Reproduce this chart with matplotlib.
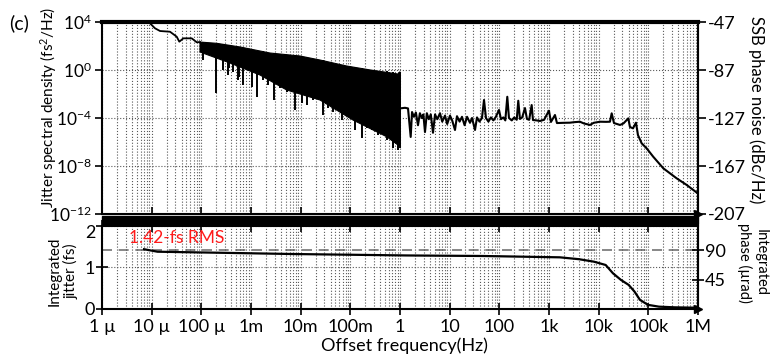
import numpy as np
import matplotlib.pyplot as plt
import matplotlib.transforms as mtransforms
from matplotlib.ticker import NullLocator, FixedLocator, LogLocator, NullFormatter
from matplotlib.patches import Rectangle

plt.rcParams['font.family'] = ['Lato', 'DejaVu Sans']
plt.rcParams['mathtext.fontset'] = 'custom'
plt.rcParams['mathtext.rm'] = 'Lato'
plt.rcParams['mathtext.it'] = 'Lato:italic'
plt.rcParams['axes.unicode_minus'] = False

# jitter spectral density, stored as log10(Hz) / log10(fs^2/Hz)
# smooth start below 100 uHz
head_logf = [-5.068, -4.933, -4.832, -4.631, -4.496, -4.444, -4.363, -4.194, -4.093, -4.027]
head_logS = [4.03, 3.475, 3.25, 3.19, 2.775, 2.36, 2.64, 2.64, 2.31, 2.33]

# 100 uHz .. 1 Hz: dense black band, upper and lower edge
band_up_logf = [-4.027, -3.691, -3.222, -2.618, -2.014, -1.611, -1.073, -0.593, -0.041, 0.0]
band_up_logS = [2.33, 2.225, 1.92, 1.417, 1.167, 0.833, 0.333, 0.0, -0.333, -0.14]
band_lo_logf = [-4.027, -3.423, -2.819, -2.281, -1.611, -0.947, -0.268, -0.041, 0.0]
band_lo_logS = [1.5, 0.583, -0.417, -1.667, -2.5, -4.167, -5.56, -6.25, -6.3]

# dips reaching below the band: position, bottom, top
dip_logf = [-3.967, -3.705, -3.564, -3.463, -3.443, -3.363, -3.262, -3.242, -3.161,
            -2.986, -2.879, -2.759, -2.658, -2.537, -2.416, -2.275, -2.114, -1.973,
            -1.873, -1.752, -1.551, -1.450, -1.349, -1.174, -1.067, -0.906, -0.771,
            -0.665, -0.564, -0.443, -0.268, -0.141, -0.041, -0.01]
dip_low = [0.833, -1.917, 0.0, -0.417, 0.167, -0.167, -0.833, -0.558, -1.25,
           -1.39, -2.225, -0.833, -1.25, -2.5, -1.5, -1.833, -3.333, -2.75,
           -2.917, -2.5, -3.75, -3.167, -3.5, -4.167, -3.75, -5.0, -5.67,
           -4.833, -5.0, -5.417, -5.83, -6.5, -6.67, -6.5]
dip_top = [2.3, 2.2, 2.15, 2.1, 2.1, 2.0, 1.95, 1.9, 1.85,
           1.7, 1.6, 1.55, 1.45, 1.4, 1.33, 1.27, 1.2, 1.13,
           1.05, 0.95, 0.8, 0.7, 0.6, 0.4, 0.33, 0.25, 0.15,
           0.05, 0.0, -0.1, -0.1, -0.2, -0.3, -0.14]

# 1 Hz .. 1 MHz
tail_logf = [0.02, 0.10, 0.161, 0.215, 0.242, 0.28, 0.32, 0.362, 0.40, 0.44,
             0.47, 0.503, 0.54, 0.58, 0.62, 0.664, 0.705, 0.75, 0.805, 0.85,
             0.906, 0.95, 1.006, 1.05, 1.107, 1.147, 1.20, 1.248, 1.30, 1.35,
             1.409, 1.45, 1.510, 1.55, 1.60, 1.65, 1.691, 1.731, 1.78, 1.83,
             1.88, 1.93, 1.993, 2.033, 2.08, 2.12, 2.160, 2.194, 2.25, 2.30,
             2.35, 2.381, 2.415, 2.46, 2.516, 2.556, 2.60, 2.651, 2.677, 2.75,
             2.818, 2.9, 2.999, 3.039, 3.120, 3.160, 3.3, 3.422, 3.5, 3.623,
             3.7, 3.825, 3.9, 4.026, 4.15, 4.227, 4.262, 4.308, 4.429, 4.5,
             4.596, 4.630, 4.691, 4.751, 4.791, 4.866, 4.966, 5.099, 5.301, 5.571,
             5.772, 5.973]
tail_logS = [-3.19, -3.15, -3.2, -5.58, -3.5, -3.9, -3.55, -4.6, -3.6, -4.0,
             -3.7, -5.17, -3.6, -4.1, -3.7, -5.23, -3.7, -4.1, -3.6, -4.3,
             -3.8, -4.5, -3.8, -4.2, -5.0, -3.85, -4.3, -3.9, -4.6, -3.9,
             -4.4, -4.0, -5.0, -3.95, -4.3, -4.0, -2.5, -4.0, -4.3, -3.95,
             -4.2, -3.9, -3.33, -4.1, -3.95, -4.2, -2.23, -4.0, -4.2, -3.95,
             -4.15, -2.56, -4.08, -3.95, -3.17, -4.08, -4.15, -2.92, -4.17, -4.2,
             -4.25, -4.15, -3.39, -4.33, -3.75, -4.42, -4.4, -4.39, -4.35, -4.31,
             -4.45, -4.58, -4.4, -4.31, -4.32, -4.31, -3.61, -4.42, -4.58, -4.45,
             -4.03, -4.75, -4.86, -4.39, -5.42, -6.11, -6.53, -7.23, -8.19, -9.03,
             -9.58, -10.21]

# integrated jitter (fs)
int_logf = [-5.154, -4.883, -3.725, -2.183, 0.131, 1.671, 3.217, 3.603, 3.905, 4.141,
            4.288, 4.449, 4.604, 4.721, 4.831, 4.992, 5.214, 5.530, 5.993]
int_fs = [1.44, 1.38, 1.357, 1.325, 1.29, 1.277, 1.245, 1.20, 1.14, 1.06,
          0.86, 0.70, 0.58, 0.42, 0.22, 0.10, 0.056, 0.04, 0.03]
rms_fs = 1.42
rms_urad = 90

freq_ticks = [1e-6, 1e-5, 1e-4, 1e-3, 1e-2, 1e-1, 1, 10, 100, 1e3, 1e4, 1e5, 1e6]
freq_labels = ['1 µ', '10 µ', '100 µ', '1m', '10m', '100m', '1', '10', '100',
               '1k', '10k', '100k', '1M']
psd_ticks = [1e-12, 1e-8, 1e-4, 1e0, 1e4]
ssb_ticks = [-207, -167, -127, -87, -47]

p = lambda v: 10 ** np.asarray(v, dtype=float)

fig = plt.figure(figsize=(7.7, 3.59), dpi=100)
ax1 = fig.add_axes([0.1325, 0.4039, 0.774, 0.5348])
ax2 = fig.add_axes([0.1325, 0.1393, 0.774, 0.2312], sharex=ax1)

grid_kw = dict(ls=':', color='0.35', lw=0.8)

# ---- top: spectral density ----
ax1.set_xscale('log')
ax1.set_yscale('log')
ax1.plot(p(head_logf), p(head_logS), color='k', lw=1.3)
ax1.fill(np.concatenate([p(band_up_logf), p(band_lo_logf)[::-1]]),
         np.concatenate([p(band_up_logS), p(band_lo_logS)[::-1]]),
         color='k', lw=0.8, zorder=2)
ax1.vlines(p(dip_logf), p(dip_low), p(dip_top), color='k', lw=1.4, zorder=2)
ax1.plot(p(tail_logf), p(tail_logS), color='k', lw=1.5)
ax1.set_xlim(1e-6, 1e6)
ax1.set_ylim(1e-12, 1e4)
ax1.set_yticks(psd_ticks)
ax1.yaxis.set_minor_locator(NullLocator())
ax1.xaxis.set_major_locator(FixedLocator(freq_ticks))
ax1.xaxis.set_minor_locator(LogLocator(base=10, subs=np.arange(2, 10), numticks=50))
ax1.xaxis.set_minor_formatter(NullFormatter())
ax1.grid(which='major', axis='both', **grid_kw)
ax1.grid(which='minor', axis='x', **grid_kw)
ax1.tick_params(axis='x', which='major', direction='in', length=5, width=1.2,
                labelbottom=False)
ax1.tick_params(axis='x', which='minor', length=0)
ax1.tick_params(axis='y', direction='out', length=5, width=1.2, pad=2, labelsize=12.5)
for s in ['left', 'right', 'bottom']:
    ax1.spines[s].set_linewidth(1.5)
ax1.spines['top'].set_linewidth(3)

ax1r = ax1.twinx()
ax1r.set_ylim(-207, -47)
ax1r.set_yticks(ssb_ticks)
ax1r.tick_params(axis='y', direction='out', length=6, width=1.2, pad=1, labelsize=13)
for s in ax1r.spines.values():
    s.set_visible(False)
ax1r.spines['right'].set_visible(True)
ax1r.spines['right'].set_linewidth(1.5)
ax1.plot([1], [0], marker='>', ms=6, color='k', transform=ax1.transAxes, clip_on=False)

# ---- bottom: integrated jitter ----
ax2.axhline(rms_fs, color='0.45', ls=(0, (6, 4)), lw=1.2, zorder=1)
ax2.plot(p(int_logf), int_fs, color='k', lw=1.6, zorder=3)
ax2.set_ylim(0, 2)
ax2.set_yticks([0, 1, 2])
ax2.set_xticks(freq_ticks)
ax2.set_xticklabels(freq_labels)
ax2.grid(which='major', axis='both', **grid_kw)
ax2.grid(which='minor', axis='x', **grid_kw)
ax2.tick_params(axis='x', which='major', direction='inout', length=8, width=1.2,
                top=True, pad=3, labelsize=13)
ax2.tick_params(axis='x', which='minor', length=0)
ax2.tick_params(axis='y', direction='inout', length=8, width=1.2, pad=1, labelsize=13)
for s in ax2.spines.values():
    s.set_linewidth(1.5)
# nudge the "2" label a little down so it clears the 10^-12 label above
top_lbl = ax2.yaxis.get_majorticklabels()[-1]
top_lbl.set_transform(top_lbl.get_transform() +
                      mtransforms.ScaledTranslation(0, -4 / 72, fig.dpi_scale_trans))
ax2.text(0.045, 0.86, '%.2f-fs RMS' % rms_fs, color='#ff1a1a', fontsize=12.5,
         ha='left', va='center', transform=ax2.transAxes)

ax2r = ax2.twinx()
ax2r.set_ylim(0, 2 * rms_urad / rms_fs)
ax2r.set_yticks([45, 90])
ax2r.tick_params(axis='y', direction='inout', length=8, width=1.2, pad=1, labelsize=13)
for s in ax2r.spines.values():
    s.set_visible(False)
ax2r.spines['right'].set_visible(True)
ax2r.spines['right'].set_linewidth(1.5)
ax2.plot([1], [0], marker='>', ms=6, color='k', transform=ax2.transAxes, clip_on=False)

# black bar between the panels
fig.patches.append(Rectangle((0.1325, 0.3747), 0.774, 0.0236,
                             transform=fig.transFigure, color='k'))

fig.text(0.012, 0.935, '(c)', fontsize=14, ha='left', va='center')
fig.text(0.063, 0.7, 'Jitter spectral density (fs$^2$/Hz)', rotation=90,
         fontsize=11, ha='center', va='center')
fig.text(0.982, 0.694, 'SSB phase noise (dBc/Hz)', rotation=-90,
         fontsize=12, ha='center', va='center')
fig.text(0.082, 0.245, 'Integrated\njitter (fs)', rotation=90,
         fontsize=11, ha='center', va='center', linespacing=1.1)
fig.text(0.977, 0.268, 'Integrated\nphase (µrad)', rotation=-90,
         fontsize=10.5, ha='center', va='center', linespacing=1.1)
fig.text(0.525, 0.036, 'Offset frequency(Hz)', fontsize=13, ha='center', va='center')

fig.savefig('out.png', dpi=100)
